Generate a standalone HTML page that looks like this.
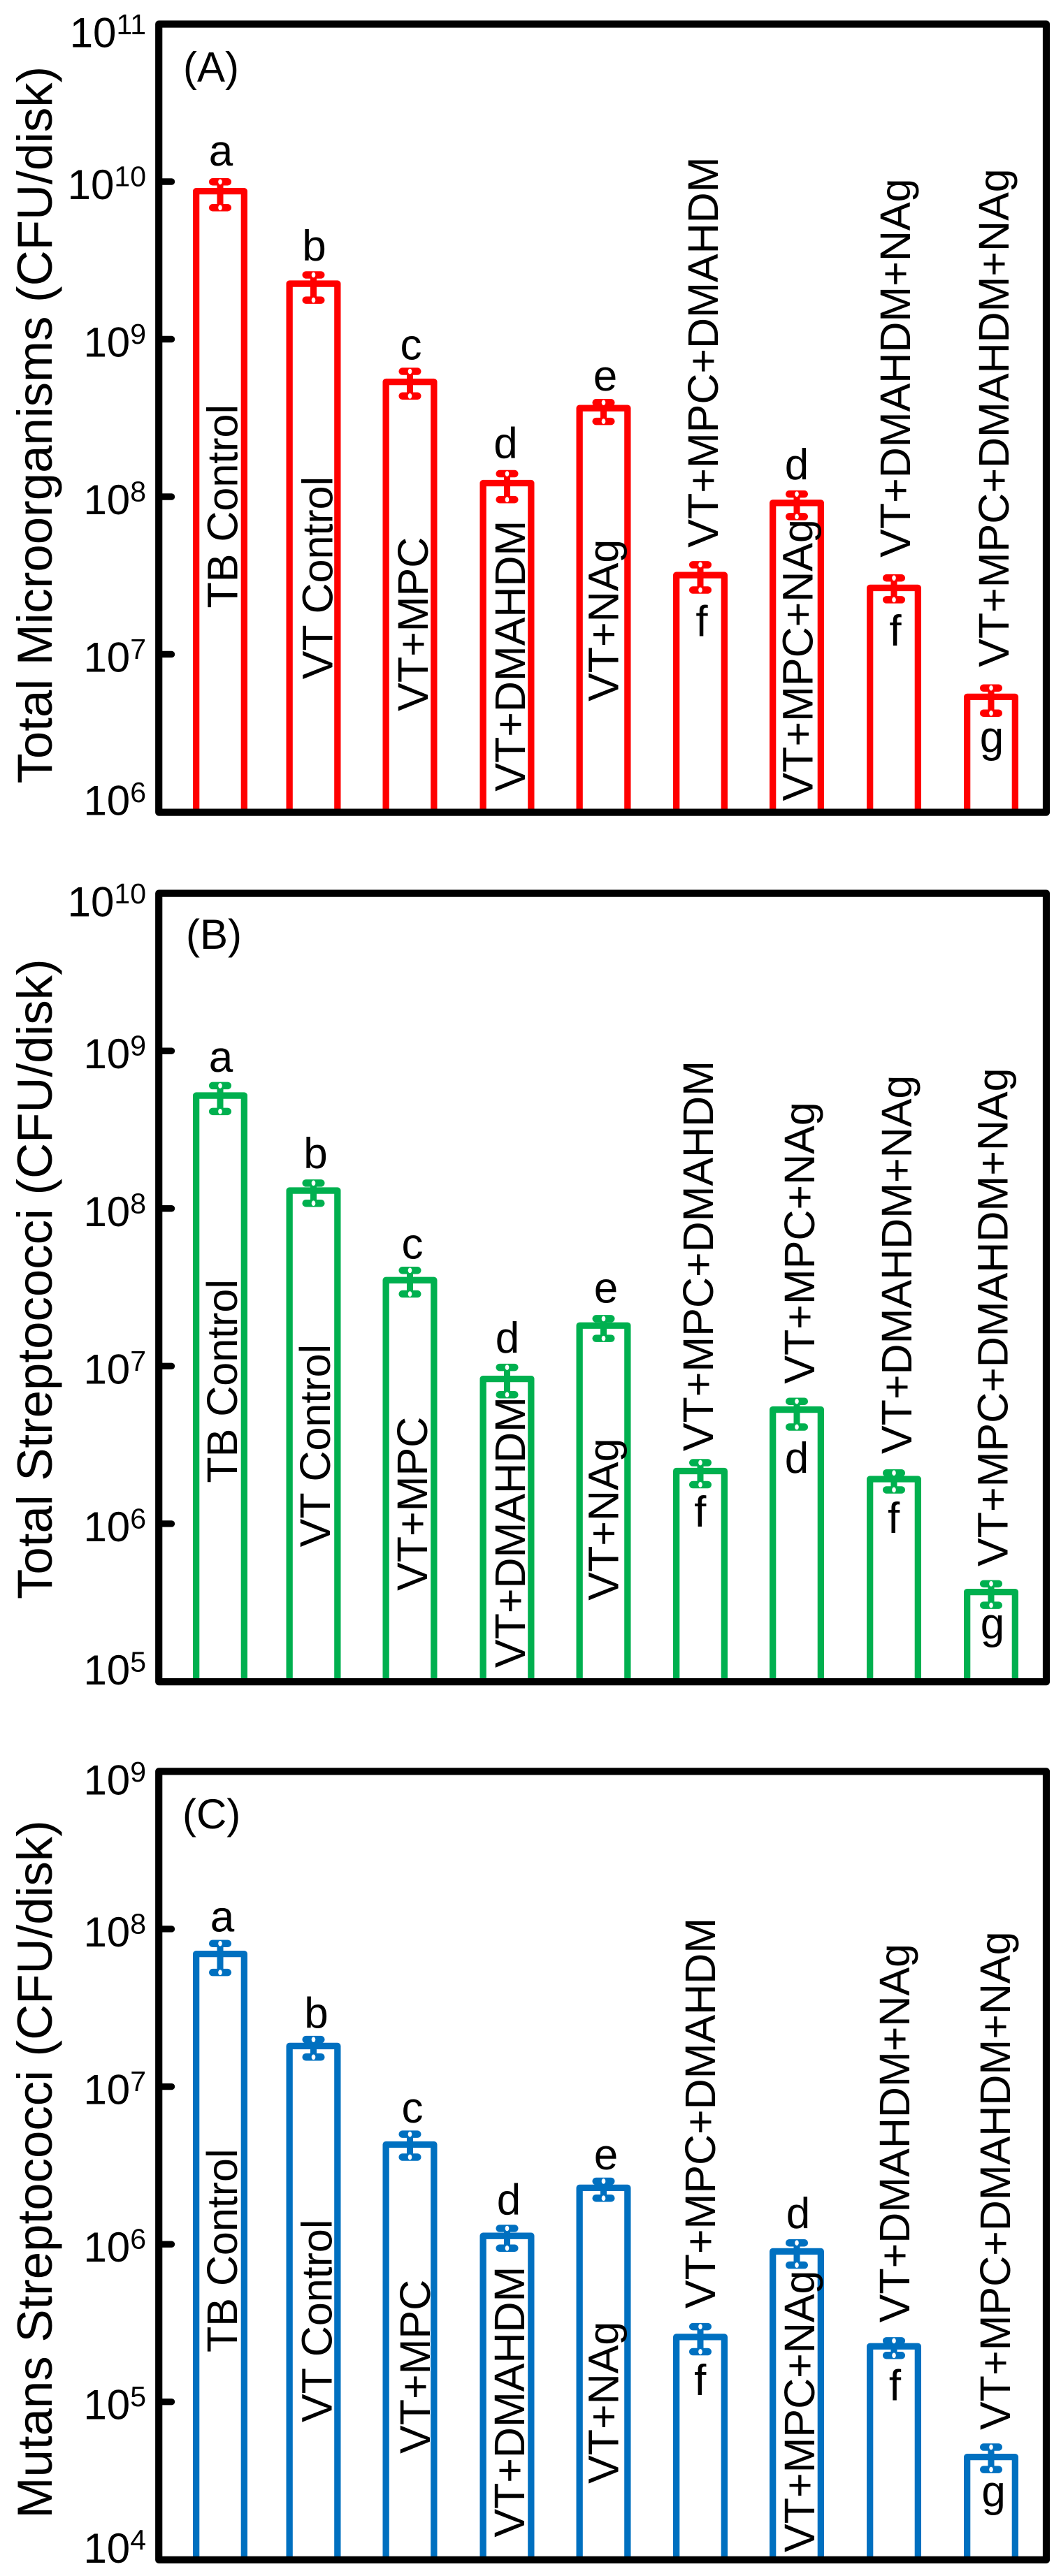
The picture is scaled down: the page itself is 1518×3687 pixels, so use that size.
<!DOCTYPE html>
<html lang="en">
<head>
<meta charset="utf-8">
<title>Microorganism counts by treatment</title>
<style>
html,body{margin:0;padding:0;background:#fff;}
svg{display:block;}
text{font-family:"Liberation Sans",Arial,sans-serif;fill:#000;}
</style>
</head>
<body>
<svg id="figure" xmlns="http://www.w3.org/2000/svg" width="1518" height="3687" viewBox="0 0 1518 3687">
  <rect x="0" y="0" width="1518" height="3687" fill="#fff"/>
  <g id="panel-a"></g>
  <g id="panel-b"></g>
  <g id="panel-c"></g>
</svg>
<script>
// ---- Data ----
const categories = ["TB Control","VT Control","VT+MPC","VT+DMAHDM","VT+NAg","VT+MPC+DMAHDM","VT+MPC+NAg","VT+DMAHDM+NAg","VT+MPC+DMAHDM+NAg"];
const significance = ["a","b","c","d","e","f","d","f","g"];

const ticksA = [11,10,9,8,7,6];
const meanA  = [8.70e9,2.25e9,5.36e8,1.22e8,3.65e8,3.18e7,9.14e7,2.64e7,5.37e6];
const upperA = [9.97e9,2.56e9,6.25e8,1.40e8,3.96e8,3.70e7,1.04e8,3.05e7,6.11e6];
const lowerA = [6.84e9,1.77e9,4.36e8,9.59e7,3.01e8,2.56e7,7.48e7,2.22e7,4.23e6];

const ticksB = [10,9,8,7,6,5];
const meanB  = [5.21e8,1.30e8,3.51e7,8.30e6,1.81e7,2.16e6,5.30e6,1.92e6,3.69e5];
const upperB = [6.02e8,1.45e8,4.05e7,9.82e6,2.00e7,2.44e6,5.98e6,2.10e6,4.16e5];
const lowerB = [4.13e8,1.08e8,2.87e7,6.59e6,1.50e7,1.77e6,4.11e6,1.64e6,3.04e5];

const ticksC = [9,8,7,6,5,4];
const meanC  = [6.95e7,1.81e7,4.29e6,1.13e6,2.28e6,2.58e5,9.00e5,2.25e5,4.47e4];
const upperC = [8.09e7,1.99e7,4.99e6,1.26e6,2.51e6,3.00e5,1.02e6,2.44e5,5.16e4];
const lowerC = [5.30e7,1.54e7,3.57e6,9.44e5,1.96e6,2.08e5,7.37e5,1.97e5,3.72e4];

// ---- Hand-placed annotation nudges (px, relative to each bar) ----
const barNudge = [3,-1.6,-1.7,-0.8,-0.9,-0.5,-0.6,0.3,1.2];
const panels = [
  {id:"panel-a",color:"#ff0000",title:"Total Microorganisms (CFU/disk)",titleX:74,titleY:1121.5,tag:"(A)",tagX:262,tagY:116.7,
   top:34.5,bottom:1162,ticks:ticksA,mean:meanA,upper:upperA,lower:lowerA,
   letterDx:[1,1,1.5,-2,2.5,2,0,2,1],letterDy:[-36.7,-33.3,-32.2,-36.1,-25.3,87.5,-34,82.4,78.4],
   labelDx:[24.3,27,25.5,25.5,21,25,22.6,23,25],labelDy:[596.9,566.2,471.3,441.2,419.7,-39.5,426.7,-43.6,-42.6]},
  {id:"panel-b",color:"#00b04f",title:"Total Streptococci (CFU/disk)",titleX:74,titleY:2289,tag:"(B)",tagX:266,tagY:1358,
   top:1278.6,bottom:2406.5,ticks:ticksB,mean:meanB,upper:upperB,lower:lowerB,
   letterDx:[1,3,3.5,0.5,3.5,-0.3,0,-0.4,2],letterDy:[-34,-32.1,-30.6,-37.5,-32.5,79.7,90.5,77,66.4],
   labelDx:[24,23.5,24.5,25.5,21,18,25,25,23.5],labelDy:[554.6,510.3,444.6,413.5,393.5,-28.3,-36.9,-36,-36.6]},
  {id:"panel-c",color:"#0070c0",title:"Mutans Streptococci (CFU/disk)",titleX:74,titleY:3604.5,tag:"(C)",tagX:261,tagY:2617,
   top:2535.4,bottom:3663.3,ticks:ticksC,mean:meanC,upper:upperC,lower:lowerC,
   letterDx:[3,4,3.5,2.5,3.5,-0.3,2,1.5,3.6],letterDy:[-32.1,-25.9,-31.5,-30.5,-26.5,83.2,-33.5,77,70.4],
   labelDx:[24,26,28.5,24.5,21,21,25,22,27],labelDy:[570.4,538.6,442.5,431.5,423.5,-40.8,430.5,-34,-38.6]}
];

// ---- Drawing ----
const NS = "http://www.w3.org/2000/svg";
const frameLeft = 227.2, frameRight = 1497;
const barHalf = 39, barStroke = 9.3;

function make(parent, tag, attrs, content){
  const el = document.createElementNS(NS, tag);
  for (const k in attrs) el.setAttribute(k, attrs[k]);
  if (content !== undefined) el.textContent = content;
  parent.appendChild(el);
  return el;
}
function xBand(i){ return 312 + 138.1 * i + barNudge[i]; }
function yLog(p, v){
  const maxE = p.ticks[0], minE = p.ticks[p.ticks.length - 1];
  return p.top + (maxE - Math.log10(v)) * (p.bottom - p.top) / (maxE - minE);
}

panels.forEach(function(p){
  const g = document.getElementById(p.id);
  const baseline = p.bottom;

  categories.forEach(function(name, i){
    const cx = xBand(i), yTop = yLog(p, p.mean[i]), hw = barHalf - barStroke / 2;

    const bar = make(g, "path", {d:"M"+(cx-hw)+" "+baseline+"V"+yTop+"H"+(cx+hw)+"V"+baseline, fill:"none", stroke:p.color, "stroke-width":barStroke, "stroke-linejoin":"round"});
    
    

    const yU = yLog(p, p.upper[i]), yL = yLog(p, p.lower[i]);
    const stem = make(g, "line", {x1:cx, x2:cx, y1:yU, y2:yL, stroke:p.color, "stroke-width":9});
    
    

    const capTop = make(g, "line", {x1:cx-10.8, x2:cx+10.8, y1:yU, y2:yU, stroke:p.color, "stroke-width":10.5, "stroke-linecap":"round"});
    
    

    const capBottom = make(g, "line", {x1:cx-10.8, x2:cx+10.8, y1:yL, y2:yL, stroke:p.color, "stroke-width":10.5, "stroke-linecap":"round"});
    
    

    const notchTop = make(g, "ellipse", {cx:cx, cy:yU, rx:2.8, ry:3.8, fill:"#fff"});
    
    

    const notchBottom = make(g, "ellipse", {cx:cx, cy:yL, rx:2.8, ry:3.8, fill:"#fff"});
    
    

    const lx = cx + p.labelDx[i], ly = yTop + p.labelDy[i];
    const label = make(g, "text", {x:0, y:0, transform:"translate("+lx+" "+ly+") rotate(-90)", "font-size":61}, name);
    
    

    const letter = make(g, "text", {x:cx + p.letterDx[i], y:yTop + p.letterDy[i], "text-anchor":"middle", "font-size":62}, significance[i]);
    
    
  });

  const frame = make(g, "rect", {x:frameLeft, y:p.top, width:frameRight-frameLeft, height:p.bottom-p.top+0.6, fill:"none", stroke:"#000", "stroke-width":10.2, "stroke-linejoin":"round"});
  
  

  p.ticks.forEach(function(e, i){
    const y = p.top + i * (p.bottom - p.top) / (p.ticks.length - 1);
    if (i > 0 && i < p.ticks.length - 1) {
      const tick = make(g, "line", {x1:frameLeft, x2:245.5, y1:y, y2:y, stroke:"#000", "stroke-width":9.4, "stroke-linecap":"round"});
      
      
    }
    const off = i === 0 ? 33 : (i === p.ticks.length - 1 ? 4.7 : 25);
    const tl = make(g, "text", {x:209, y:y + off, "text-anchor":"end", "font-size":60});
    
    
    make(tl, "tspan", {}, "10");
    make(tl, "tspan", {dy:-18.5, "font-size":41}, String(e));
  });

  const title = make(g, "text", {x:0, y:0, transform:"translate("+p.titleX+" "+p.titleY+") rotate(-90)", "font-size":70.8}, p.title);
  
  

  const tag = make(g, "text", {x:p.tagX, y:p.tagY, "font-size":60}, p.tag);
  
  
});
</script>
</body>
</html>
